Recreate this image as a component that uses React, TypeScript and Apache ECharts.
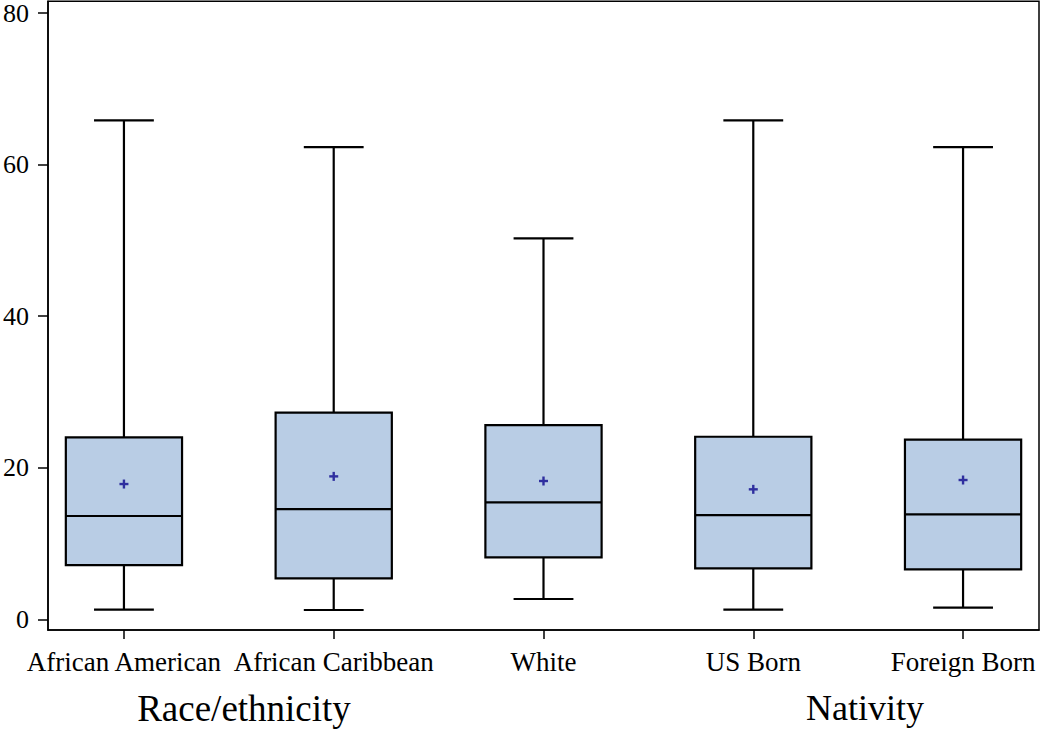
import React, { useEffect, useRef } from "react";
import * as echarts from "echarts";

const categories = ["African American", "African Caribbean", "White", "US Born", "Foreign Born"];
const whiskerLow = [1.27, 1.23, 2.68, 1.27, 1.53];
const q1 = [7.16, 5.41, 8.18, 6.73, 6.6];
const median = [13.63, 14.55, 15.43, 13.76, 13.85];
const q3 = [24.0, 27.26, 25.63, 24.09, 23.7];
const whiskerHigh = [65.83, 62.31, 50.26, 65.83, 62.31];
const means = [17.85, 18.86, 18.25, 17.15, 18.38];
const yTicks = [0, 20, 40, 60, 80];
const groupTitles = ["Race/ethnicity", "Nativity"];

const FONT = "'Liberation Serif', 'Times New Roman', serif";

export default function App() {
  const ref = useRef<HTMLDivElement>(null);
  useEffect(() => {
    document.body.style.margin = "0";
    if (!ref.current) return;
    const chart = echarts.init(ref.current, null, { renderer: "svg" });
    const xIdx = categories.map((_, i) => i);
    const data = categories.map((_, i) => [i, whiskerLow[i], q1[i], median[i], q3[i], whiskerHigh[i], means[i]]);
    const lineStyle = { stroke: "#000", lineWidth: 2.2 };
    chart.setOption({
      animation: false,
      grid: { left: 45, top: 1, right: 11, bottom: 100, show: true, borderColor: "#000", borderWidth: 1.5, backgroundColor: "#fff" },
      xAxis: {
        type: "value",
        min: -0.362,
        max: 4.362,
        splitLine: { show: false },
        axisLine: { show: true, onZero: false, lineStyle: { color: "#000", width: 1.5 } },
        axisTick: { show: true, customValues: xIdx, length: 9, lineStyle: { color: "#000", width: 1.5 } },
        axisLabel: {
          customValues: xIdx,
          formatter: (v: number) => categories[Math.round(v)] ?? "",
          color: "#000",
          fontFamily: FONT,
          fontSize: 27,
          margin: 18,
        },
      },
      yAxis: {
        type: "value",
        min: -1.41,
        max: 81.54,
        splitLine: { show: false },
        axisLine: { show: true, onZero: false, lineStyle: { color: "#000", width: 1.5 } },
        axisTick: { show: true, customValues: yTicks, length: 10, lineStyle: { color: "#000", width: 1.5 } },
        axisLabel: {
          customValues: yTicks,
          color: "#000",
          fontFamily: FONT,
          fontSize: 26,
          margin: 19,
        },
      },
      series: [
        {
          type: "custom",
          data,
          encode: { x: 0, y: [1, 2, 3, 4, 5, 6] },
          renderItem: (params: any, api: any) => {
            const x = api.value(0);
            const lo = api.coord([x, api.value(1)]);
            const b1 = api.coord([x, api.value(2)]);
            const md = api.coord([x, api.value(3)]);
            const b3 = api.coord([x, api.value(4)]);
            const hi = api.coord([x, api.value(5)]);
            const mn = api.coord([x, api.value(6)]);
            const unit = api.size([1, 0])[0];
            const hw = unit * 0.277;
            const cw = unit * 0.1426;
            const cx = lo[0];
            const ps = 4.5;
            const plusStyle = { stroke: "#2f2f9f", lineWidth: 2.4 };
            return {
              type: "group",
              children: [
                { type: "line", shape: { x1: cx, y1: hi[1], x2: cx, y2: b3[1] }, style: lineStyle },
                { type: "line", shape: { x1: cx, y1: b1[1], x2: cx, y2: lo[1] }, style: lineStyle },
                { type: "line", shape: { x1: cx - cw, y1: hi[1], x2: cx + cw, y2: hi[1] }, style: lineStyle },
                { type: "line", shape: { x1: cx - cw, y1: lo[1], x2: cx + cw, y2: lo[1] }, style: lineStyle },
                {
                  type: "rect",
                  shape: { x: cx - hw, y: b3[1], width: 2 * hw, height: b1[1] - b3[1] },
                  style: { fill: "#b9cde5", stroke: "#000", lineWidth: 2.2 },
                },
                { type: "line", shape: { x1: cx - hw, y1: md[1], x2: cx + hw, y2: md[1] }, style: lineStyle },
                { type: "line", shape: { x1: cx - ps, y1: mn[1], x2: cx + ps, y2: mn[1] }, style: plusStyle },
                { type: "line", shape: { x1: cx, y1: mn[1] - ps, x2: cx, y2: mn[1] + ps }, style: plusStyle },
              ],
            };
          },
        },
      ],
      graphic: [
        {
          type: "text",
          x: 244,
          y: 708,
          style: { text: groupTitles[0], fill: "#000", font: `37px ${FONT}`, textAlign: "center", textVerticalAlign: "middle" },
        },
        {
          type: "text",
          x: 865,
          y: 708,
          style: { text: groupTitles[1], fill: "#000", font: `36px ${FONT}`, textAlign: "center", textVerticalAlign: "middle" },
        },
      ],
    });
    return () => chart.dispose();
  }, []);
  return <div ref={ref} style={{ width: 1050, height: 730 }} />;
}
